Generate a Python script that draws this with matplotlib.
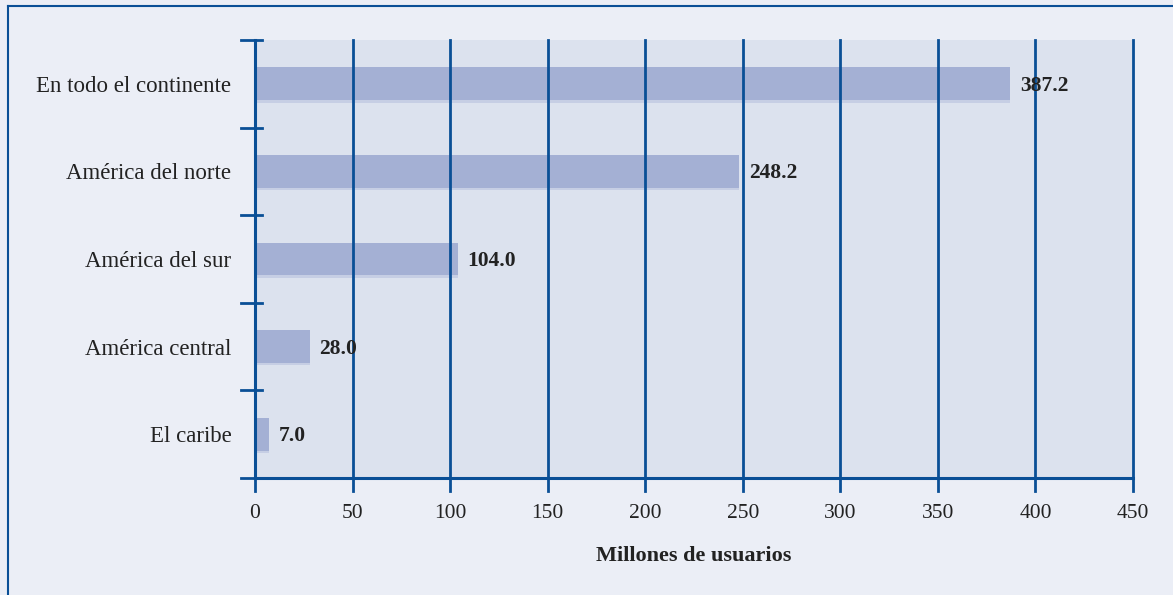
import matplotlib
matplotlib.use("Agg")
import matplotlib.pyplot as plt
from matplotlib.lines import Line2D

categories = ["En todo el continente", "América del norte", "América del sur", "América central", "El caribe"]
values = [387.2, 248.2, 104.0, 28.0, 7.0]
labels = ["387.2", "248.2", "104.0", "28.0", "7.0"]
xticks = [0, 50, 100, 150, 200, 250, 300, 350, 400, 450]

W, H = 1173, 595
fig = plt.figure(figsize=(W / 100, H / 100), dpi=100)
fig.patch.set_facecolor("#ebeef6")
plt.rcParams['font.family'] = ['Liberation Serif', 'DejaVu Serif']

blue = "#0a4f96"
txt = "#222222"
# frame lines (left and top)
fig.add_artist(Line2D([8 / W, 8 / W], [0, 1 - 6 / H], transform=fig.transFigure, color=blue, lw=1.5))
fig.add_artist(Line2D([8 / W, 1], [1 - 6 / H, 1 - 6 / H], transform=fig.transFigure, color=blue, lw=1.5))

left, right, top, bottom = 255, 1133, 40, 478
ax = fig.add_axes([left / W, 1 - bottom / H, (right - left) / W, (bottom - top) / H])
ax.set_facecolor("#dce2ee")

pos = list(range(len(categories)))
ax.barh([p + 0.015 for p in pos], values, height=0.40, color="#c6cee4", zorder=2)
ax.barh(pos, values, height=0.373, color="#a4b0d4", zorder=3)

for p, v, l in zip(pos, values, labels):
    ax.annotate(l, (v, p), xytext=(7, -1.5), textcoords="offset points", va="center", ha="left",
                fontsize=15.5, fontweight="bold", color=txt, zorder=5)

ax.set_xlim(0, 450)
ax.set_ylim(len(categories) - 0.5, -0.5)
ax.set_xticks(xticks)
ax.set_xticklabels([str(t) for t in xticks], fontsize=15.5, color=txt)
ax.set_yticks(pos)
ax.set_yticklabels(categories, fontsize=16.5, color=txt)
ax.tick_params(axis="y", length=0, pad=17)
ax.tick_params(axis="x", length=0, pad=19)

# gridlines
for t in xticks[1:]:
    ax.axvline(t, color=blue, lw=2, zorder=4, clip_on=False)
# y boundary ticks
for b in [p - 0.5 for p in pos] + [len(categories) - 0.5]:
    ax.plot([-0.016, 0.008], [b, b], transform=ax.get_yaxis_transform(), color=blue, lw=2,
            clip_on=False, zorder=6)
# x ticks below
for t in xticks:
    ax.plot([t, t], [0, -0.03], transform=ax.get_xaxis_transform(), color=blue, lw=2,
            clip_on=False, zorder=6)

for s in ["top", "right"]:
    ax.spines[s].set_visible(False)
for s in ["left", "bottom"]:
    ax.spines[s].set_color(blue)
    ax.spines[s].set_linewidth(2.2)
    ax.spines[s].set_zorder(6)

ax.set_xlabel("Millones de usuarios", fontsize=16, fontweight="bold", color=txt, labelpad=16)

fig.savefig("out.png", dpi=100, facecolor=fig.get_facecolor())
